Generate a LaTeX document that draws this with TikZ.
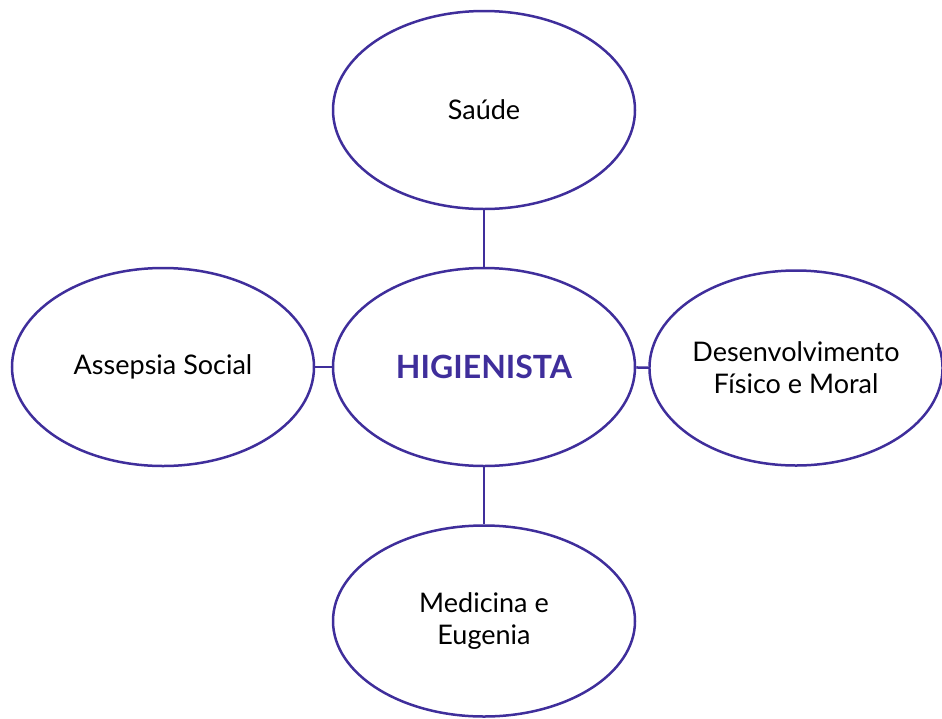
\documentclass[tikz,border=0pt]{standalone}
\usepackage{fontspec}
\setmainfont{Lato}
\usetikzlibrary{shapes.geometric}
\definecolor{roxo}{HTML}{3F2E9B}
\begin{document}
\begin{tikzpicture}[x=1pt, y=-1pt,
    bolha/.style={ellipse, draw=roxo, line width=2.5pt, minimum width=302pt, minimum height=198pt,
      align=center, font=\fontsize{27}{32}\selectfont, inner sep=0pt}]
      \useasboundingbox (0,0) rectangle (942,718);

      \node[bolha] (centro) at (484,367) {\fontsize{32}{36}\selectfont\bfseries\color{roxo}HIGIENISTA};
      \node[bolha] (saude) at (484,110) {Saúde};
      \node[bolha] (assepsia) at (163,367) {Assepsia Social};
      \node[bolha, minimum width=290pt, minimum height=195pt] (desenv) at (796,368) {Desenvolvimento\\Físico e Moral};
      \node[bolha, minimum height=191pt] (medicina) at (484,621) {Medicina e\\Eugenia};

      \draw[roxo, line width=2.5pt] (saude) -- (centro);
      \draw[roxo, line width=2.5pt] (assepsia) -- (centro);
      \draw[roxo, line width=2.5pt] (centro) -- (desenv);
      \draw[roxo, line width=2.5pt] (centro) -- (medicina);
    \end{tikzpicture}
\end{document}
